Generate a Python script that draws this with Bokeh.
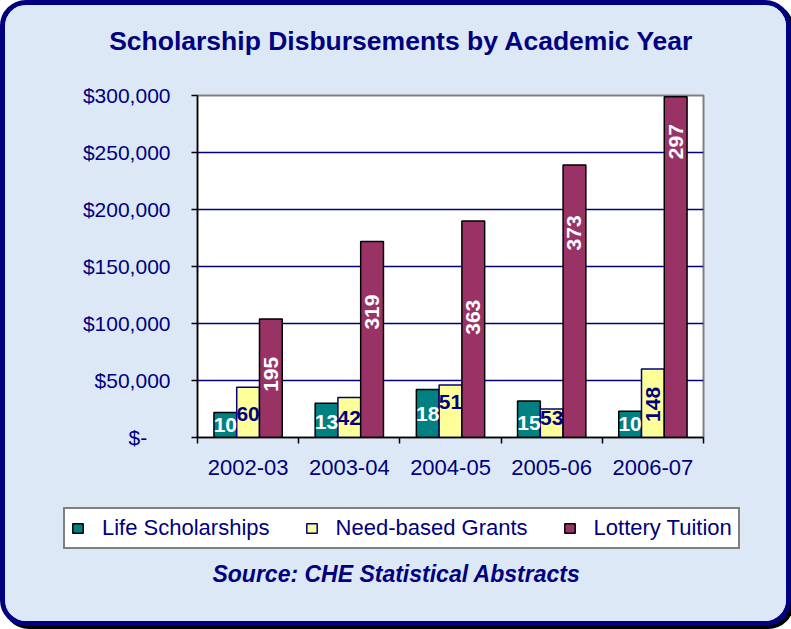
import math
from bokeh.plotting import figure
from bokeh.layouts import column
from bokeh.core.properties import value
from bokeh.models import (ColumnDataSource, Range1d, FixedTicker, SingleIntervalTicker,
                          NumeralTickFormatter, LabelSet, Label, Legend, LegendItem)
from bokeh.embed import file_html
from bokeh.resources import INLINE

# ---------------- data ----------------
years = ["2002-03", "2003-04", "2004-05", "2005-06", "2006-07"]
life = [22000, 30000, 42000, 32000, 23000]
need = [44000, 35000, 46000, 25000, 60000]
lottery = [104000, 172000, 190000, 239000, 299000]

life_counts = ["10", "13", "18", "15", "10"]
need_counts = ["60", "42", "51", "53", "148"]
lottery_counts = ["195", "319", "363", "373", "297"]

series_names = ["Life Scholarships", "Need-based Grants", "Lottery Tuition"]
title_text = "Scholarship Disbursements by Academic Year"
source_text = "Source: CHE Statistical Abstracts"

y_ticks_step = 50000
y_max = 300000

# ---------------- label placement (data units) ----------------
life_label_y = [10600, 13500, 20900, 13000, 12000]
need_label_y = [21000, 17200, 31000, 16700, 29000]
need_label_angle = [0, 0, 0, 0, math.pi / 2]
lottery_label_y = [55400, 110000, 105500, 179500, 259500]

# ---------------- styles ----------------
FONT = "Liberation Sans"
NAVY = "#000080"
BG = "#dce8f5"
BAR_W = 0.225
COLORS = ["#008080", "#ffff99", "#993366"]
EDGES = ["black", NAVY, "black"]
W = 781


def blank_fig(h):
    f = figure(width=W, height=h, output_backend="svg", toolbar_location=None,
               x_range=Range1d(0, W), y_range=Range1d(0, h), frame_align=False,
               min_border_left=0, min_border_right=0, min_border_top=0, min_border_bottom=0)
    f.axis.visible = False
    f.grid.visible = False
    f.title.visible = False
    f.outline_line_color = None
    f.border_fill_color = BG
    f.background_fill_color = BG
    return f


# ---------------- title strip ----------------
ptitle = blank_fig(70)
ptitle.add_layout(Label(x=396, y=35, x_units="screen", y_units="screen", text=title_text,
                        text_font=FONT, text_font_size="26.5px", text_font_style="bold",
                        text_color=NAVY, text_align="center", text_baseline="middle"))

# ---------------- main chart ----------------
idx = [i + 0.5 for i in range(len(years))]

src = ColumnDataSource(dict(
    life=life, need=need, lottery=lottery,
    life_lbl=life_counts, need_lbl=need_counts, lot_lbl=lottery_counts,
    life_y=life_label_y, need_y=need_label_y, need_ang=need_label_angle,
    lot_y=lottery_label_y,
    x_life=[v - BAR_W for v in idx], x_need=idx, x_lot=[v + BAR_W for v in idx],
))

p = figure(width=W, height=420, output_backend="svg", toolbar_location=None,
           x_range=Range1d(0, len(years)), y_range=Range1d(0, y_max), frame_align=False,
           min_border_left=192, min_border_right=W - 698, min_border_top=20, min_border_bottom=58)
p.title.visible = False
p.border_fill_color = BG
p.background_fill_color = "white"
p.outline_line_color = "#808080"
p.outline_line_width = 2

p.vbar(x="x_life", top="life", width=BAR_W, source=src, fill_color=COLORS[0],
       line_color=EDGES[0], line_width=1.5)
p.vbar(x="x_need", top="need", width=BAR_W, source=src, fill_color=COLORS[1],
       line_color=EDGES[1], line_width=1.5)
p.vbar(x="x_lot", top="lottery", width=BAR_W, source=src, fill_color=COLORS[2],
       line_color=EDGES[2], line_width=1.5)

p.xaxis.ticker = FixedTicker(ticks=idx, minor_ticks=list(range(len(years) + 1)))
p.xaxis.major_label_overrides = {v: y for v, y in zip(idx, years)}
p.xaxis.major_tick_line_color = None
p.xaxis.minor_tick_line_color = "black"
p.xaxis.minor_tick_line_width = 1.5
p.xaxis.minor_tick_out = 6
p.xaxis.minor_tick_in = 0
p.xaxis.major_label_standoff = 16
p.xaxis.major_label_text_font_size = "22px"

p.yaxis.ticker = SingleIntervalTicker(interval=y_ticks_step)
p.yaxis.formatter = NumeralTickFormatter(format="$0,0")
p.yaxis.major_label_overrides = {0: "$-\u00a0\u00a0\u00a0\u00a0"}
p.yaxis.major_tick_out = 6
p.yaxis.major_tick_in = 0
p.yaxis.major_tick_line_width = 1.5
p.yaxis.minor_tick_line_color = None
p.yaxis.major_label_standoff = 21
p.yaxis.major_label_text_font_size = "21px"

for ax in (p.xaxis, p.yaxis):
    ax.major_label_text_font = FONT
    ax.major_label_text_color = NAVY
    ax.axis_line_color = "black"
    ax.axis_line_width = 1.5

p.xgrid.grid_line_color = None
p.ygrid.grid_line_color = NAVY
p.ygrid.grid_line_width = 1.5

common = dict(source=src, text_font=value(FONT), text_font_size="21px", text_font_style="bold",
              text_align="center", text_baseline="middle")
p.add_layout(LabelSet(x="x_life", y="life_y", text="life_lbl", text_color="white", **common))
p.add_layout(LabelSet(x="x_need", y="need_y", text="need_lbl", text_color=NAVY,
                      angle="need_ang", **common))
p.add_layout(LabelSet(x="x_lot", y="lot_y", text="lot_lbl", text_color="white",
                      angle=math.pi / 2, **common))

# ---------------- legend + source strip ----------------
pleg = blank_fig(126)
# legend proxies: one bar each, placed outside the strip's visible range
swatches = [pleg.vbar(x=[-100], top=[0], width=1, fill_color=c, line_color=e, line_width=1.5)
            for c, e in zip(COLORS, EDGES)]
legend = Legend(items=[LegendItem(label=n, renderers=[r]) for n, r in zip(series_names, swatches)],
                orientation="horizontal", location=(58, 72),
                padding=6, spacing=35, label_standoff=18, glyph_width=13, glyph_height=12,
                label_height=20, label_text_font=FONT, label_text_font_size="22px",
                label_text_color=NAVY, border_line_color="black", border_line_width=2,
                background_fill_color="white", background_fill_alpha=1.0, margin=0)
pleg.add_layout(legend, "center")
pleg.add_layout(Label(x=391, y=48, x_units="screen", y_units="screen", text=source_text,
                      text_font=FONT, text_font_size="23px", text_font_style="bold italic",
                      text_color=NAVY, text_align="center", text_baseline="middle"))

layout = column(ptitle, p, pleg, spacing=0)
layout.styles = {"border": "5px solid #000080", "border-radius": "26px", "overflow": "hidden",
                 "box-shadow": "3px 3px 0px #000000", "background-color": BG}

open("out.html", "w").write(file_html(layout, INLINE))
